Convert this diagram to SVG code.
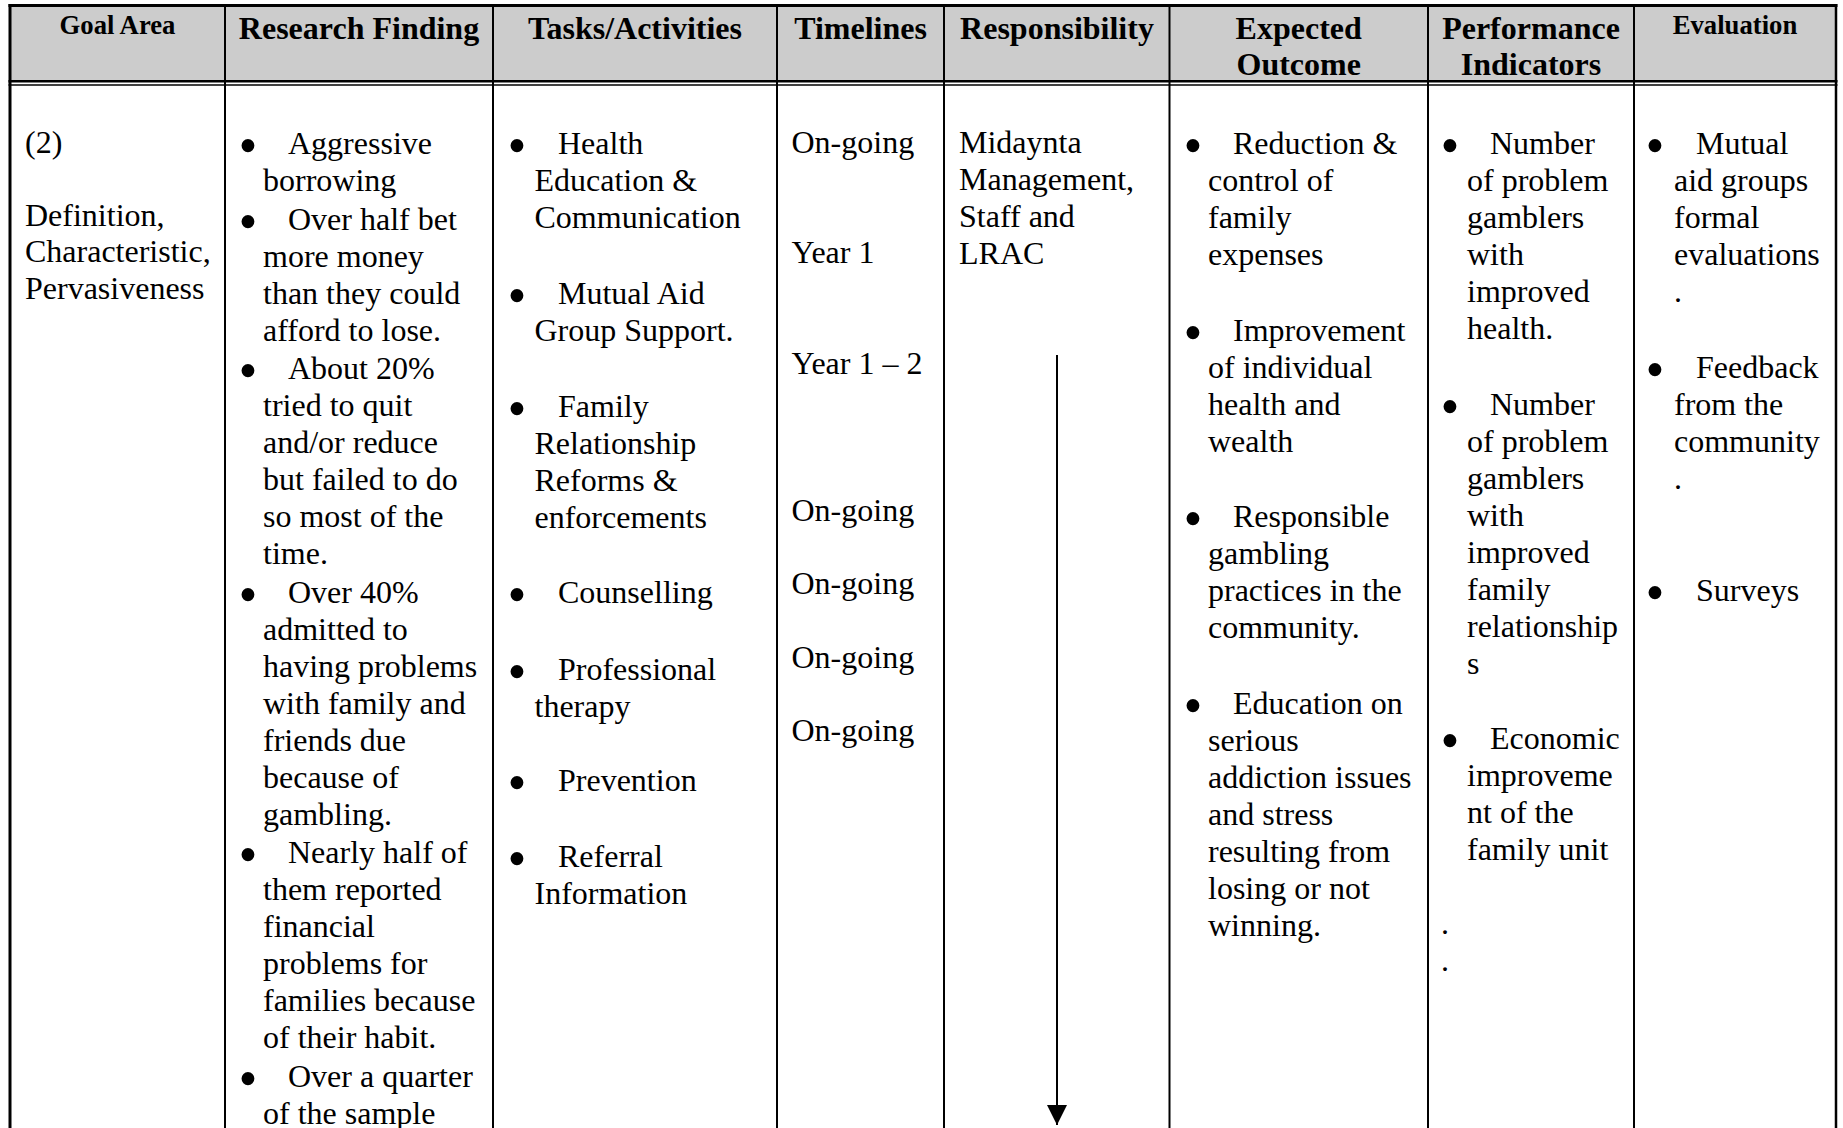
<svg xmlns="http://www.w3.org/2000/svg" width="1843" height="1128" viewBox="0 0 1843 1128">
<style>
.h{font-family:"Liberation Serif","Times New Roman",serif;font-weight:bold;font-size:32px;text-anchor:middle;fill:#000}
.hs{font-size:26.7px}
.t{font-family:"Liberation Serif","Times New Roman",serif;font-size:32px;fill:#000}
.b{font-family:"Liberation Serif","Times New Roman",serif;font-size:54px;text-anchor:middle;fill:#000}
.grid{stroke:#000;fill:none}
</style>
<defs>
<marker id="ah" markerUnits="userSpaceOnUse" markerWidth="22" markerHeight="22" refX="20" refY="10" orient="auto">
<path d="M0,0 L20,10 L0,20 z" fill="#000"/>
</marker>
</defs>
<rect width="1843" height="1128" fill="#fff"/>
<g id="table-frame">
<rect x="10" y="5.5" width="1826" height="76" fill="#cccccc"/>
<line class="grid" x1="8.5" y1="5.5" x2="1837.5" y2="5.5" stroke-width="3"/>
<line class="grid" x1="8.5" y1="81.2" x2="1837.5" y2="81.2" stroke-width="2.5"/>
<line class="grid" x1="8.5" y1="85" x2="1837.5" y2="85" stroke-width="1.6"/>
<line class="grid" x1="10" y1="4" x2="10" y2="1128" stroke-width="3"/>
<line class="grid" x1="1836" y1="4" x2="1836" y2="1128" stroke-width="2.5"/>
<g stroke-width="2">
<line class="grid" x1="225" y1="7" x2="225" y2="1128"/>
<line class="grid" x1="493" y1="7" x2="493" y2="1128"/>
<line class="grid" x1="777" y1="7" x2="777" y2="1128"/>
<line class="grid" x1="944" y1="7" x2="944" y2="1128"/>
<line class="grid" x1="1169.5" y1="7" x2="1169.5" y2="1128"/>
<line class="grid" x1="1428" y1="7" x2="1428" y2="1128"/>
<line class="grid" x1="1634" y1="7" x2="1634" y2="1128"/>
</g>
</g>
<g id="header">
<text class="h hs" x="117.5" y="34.2">Goal Area</text>
<text class="h" x="359" y="39.3">Research Finding</text>
<text class="h" x="635" y="39.3">Tasks/Activities</text>
<text class="h" x="860.5" y="39.3">Timelines</text>
<text class="h" x="1057" y="39.3">Responsibility</text>
<text class="h" x="1298.7" y="39.3">Expected</text>
<text class="h" x="1298.7" y="74.8">Outcome</text>
<text class="h" x="1531" y="39.3">Performance</text>
<text class="h" x="1531" y="74.8">Indicators</text>
<text class="h hs" x="1735" y="34.2">Evaluation</text>
</g>
<g id="goal-area">
<text class="t" x="25" y="153">(2)</text>
<text class="t" x="25" y="225.6">Definition,</text>
<text class="t" x="25" y="262.4">Characteristic,</text>
<text class="t" x="25" y="299.2">Pervasiveness</text>
</g>
<g id="research-finding">
<text class="b" x="248" y="164">•</text><text class="t" x="288" y="154">Aggressive</text>
<text class="t" x="263" y="191">borrowing</text>
<text class="b" x="248" y="239.5">•</text><text class="t" x="288" y="229.5">Over half bet</text>
<text class="t" x="263" y="266.5">more money</text>
<text class="t" x="263" y="303.5">than they could</text>
<text class="t" x="263" y="340.5">afford to lose.</text>
<text class="b" x="248" y="389">•</text><text class="t" x="288" y="379">About 20%</text>
<text class="t" x="263" y="416">tried to quit</text>
<text class="t" x="263" y="453">and/or reduce</text>
<text class="t" x="263" y="490">but failed to do</text>
<text class="t" x="263" y="527">so most of the</text>
<text class="t" x="263" y="564">time.</text>
<text class="b" x="248" y="612.5">•</text><text class="t" x="288" y="602.5">Over 40%</text>
<text class="t" x="263" y="639.5">admitted to</text>
<text class="t" x="263" y="676.5">having problems</text>
<text class="t" x="263" y="713.5">with family and</text>
<text class="t" x="263" y="750.5">friends due</text>
<text class="t" x="263" y="787.5">because of</text>
<text class="t" x="263" y="824.5">gambling.</text>
<text class="b" x="248" y="873">•</text><text class="t" x="288" y="863">Nearly half of</text>
<text class="t" x="263" y="900">them reported</text>
<text class="t" x="263" y="937">financial</text>
<text class="t" x="263" y="974">problems for</text>
<text class="t" x="263" y="1011">families because</text>
<text class="t" x="263" y="1048">of their habit.</text>
<text class="b" x="248" y="1097">•</text><text class="t" x="288" y="1087">Over a quarter</text>
<text class="t" x="263" y="1124">of the sample</text>
</g>
<g id="tasks-activities">
<text class="b" x="517" y="164">•</text><text class="t" x="558" y="154">Health</text>
<text class="t" x="534.5" y="191">Education &amp;</text>
<text class="t" x="534.5" y="228">Communication</text>
<text class="b" x="517" y="314">•</text><text class="t" x="558" y="304">Mutual Aid</text>
<text class="t" x="534.5" y="341">Group Support.</text>
<text class="b" x="517" y="426.5">•</text><text class="t" x="558" y="416.5">Family</text>
<text class="t" x="534.5" y="453.5">Relationship</text>
<text class="t" x="534.5" y="490.5">Reforms &amp;</text>
<text class="t" x="534.5" y="527.5">enforcements</text>
<text class="b" x="517" y="613">•</text><text class="t" x="558" y="603">Counselling</text>
<text class="b" x="517" y="689.5">•</text><text class="t" x="558" y="679.5">Professional</text>
<text class="t" x="534.5" y="716.5">therapy</text>
<text class="b" x="517" y="801">•</text><text class="t" x="558" y="791">Prevention</text>
<text class="b" x="517" y="877">•</text><text class="t" x="558" y="867">Referral</text>
<text class="t" x="534.5" y="904">Information</text>
</g>
<g id="timelines">
<text class="t" x="791.5" y="153">On-going</text>
<text class="t" x="791.5" y="262.5">Year 1</text>
<text class="t" x="791.5" y="373.5">Year 1 – 2</text>
<text class="t" x="791.5" y="520.5">On-going</text>
<text class="t" x="791.5" y="594">On-going</text>
<text class="t" x="791.5" y="667.5">On-going</text>
<text class="t" x="791.5" y="741">On-going</text>
</g>
<g id="responsibility">
<text class="t" x="959" y="153">Midaynta</text>
<text class="t" x="959" y="190">Management,</text>
<text class="t" x="959" y="227">Staff and</text>
<text class="t" x="959" y="264">LRAC</text>
</g>
<g id="expected-outcome">
<text class="b" x="1193" y="164">•</text><text class="t" x="1233" y="154">Reduction &amp;</text>
<text class="t" x="1208" y="191">control of</text>
<text class="t" x="1208" y="228">family</text>
<text class="t" x="1208" y="265">expenses</text>
<text class="b" x="1193" y="350.5">•</text><text class="t" x="1233" y="340.5">Improvement</text>
<text class="t" x="1208" y="377.5">of individual</text>
<text class="t" x="1208" y="414.5">health and</text>
<text class="t" x="1208" y="451.5">wealth</text>
<text class="b" x="1193" y="537">•</text><text class="t" x="1233" y="527">Responsible</text>
<text class="t" x="1208" y="564">gambling</text>
<text class="t" x="1208" y="601">practices in the</text>
<text class="t" x="1208" y="638">community.</text>
<text class="b" x="1193" y="723.5">•</text><text class="t" x="1233" y="713.5">Education on</text>
<text class="t" x="1208" y="750.5">serious</text>
<text class="t" x="1208" y="787.5">addiction issues</text>
<text class="t" x="1208" y="824.5">and stress</text>
<text class="t" x="1208" y="861.5">resulting from</text>
<text class="t" x="1208" y="898.5">losing or not</text>
<text class="t" x="1208" y="935.5">winning.</text>
</g>
<g id="performance-indicators">
<text class="b" x="1450" y="164">•</text><text class="t" x="1490" y="154">Number</text>
<text class="t" x="1467" y="191">of problem</text>
<text class="t" x="1467" y="228">gamblers</text>
<text class="t" x="1467" y="265">with</text>
<text class="t" x="1467" y="302">improved</text>
<text class="t" x="1467" y="339">health.</text>
<text class="b" x="1450" y="424.5">•</text><text class="t" x="1490" y="414.5">Number</text>
<text class="t" x="1467" y="451.5">of problem</text>
<text class="t" x="1467" y="488.5">gamblers</text>
<text class="t" x="1467" y="525.5">with</text>
<text class="t" x="1467" y="562.5">improved</text>
<text class="t" x="1467" y="599.5">family</text>
<text class="t" x="1467" y="636.5">relationship</text>
<text class="t" x="1467" y="673.5">s</text>
<text class="b" x="1450" y="759">•</text><text class="t" x="1490" y="749">Economic</text>
<text class="t" x="1467" y="786">improveme</text>
<text class="t" x="1467" y="823">nt of the</text>
<text class="t" x="1467" y="860">family unit</text>
<text class="t" x="1441" y="934">.</text>
<text class="t" x="1441" y="971">.</text>
</g>
<g id="evaluation">
<text class="b" x="1655" y="164">•</text><text class="t" x="1696" y="154">Mutual</text>
<text class="t" x="1674" y="191">aid groups</text>
<text class="t" x="1674" y="228">formal</text>
<text class="t" x="1674" y="265">evaluations</text>
<text class="t" x="1674" y="302">.</text>
<text class="b" x="1655" y="387.5">•</text><text class="t" x="1696" y="377.5">Feedback</text>
<text class="t" x="1674" y="414.5">from the</text>
<text class="t" x="1674" y="451.5">community</text>
<text class="t" x="1674" y="488.5">.</text>
<text class="b" x="1655" y="611">•</text><text class="t" x="1696" y="601">Surveys</text>
</g>
<g id="connectors">
<line x1="1057" y1="355" x2="1057" y2="1125" stroke="#000" stroke-width="2" marker-end="url(#ah)"/>
</g>
</svg>
